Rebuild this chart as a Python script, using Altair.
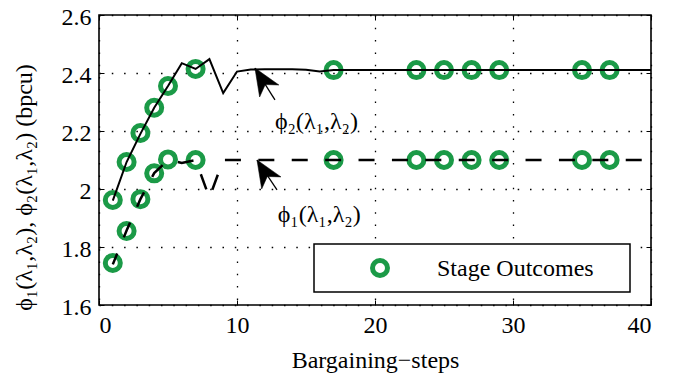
import altair as alt
import pandas as pd

FONT = "'Liberation Serif', 'Times New Roman', Times, serif"
GREEN = "#1B9A47"

# ---- data -------------------------------------------------------------
steps = list(range(1, 41))
phi2 = [1.960, 2.093, 2.190, 2.280, 2.355, 2.434, 2.414, 2.448, 2.331, 2.405,
        2.412, 2.413, 2.413, 2.413, 2.411, 2.405, 2.410, 2.410, 2.410, 2.410,
        2.410, 2.410, 2.410, 2.410, 2.410, 2.410, 2.410, 2.410, 2.410, 2.410,
        2.410, 2.410, 2.410, 2.410, 2.410, 2.410, 2.410, 2.410, 2.410, 2.410]
phi1 = [1.740, 1.857, 1.965, 2.055, 2.100, 2.090, 2.100, 1.970, 2.100, 2.100,
        2.100, 2.100, 2.100, 2.100, 2.100, 2.100, 2.100, 2.100, 2.100, 2.100,
        2.100, 2.100, 2.100, 2.100, 2.100, 2.100, 2.100, 2.100, 2.100, 2.100,
        2.100, 2.100, 2.100, 2.100, 2.100, 2.100, 2.100, 2.100, 2.100, 2.100]

stage_steps = [1, 2, 3, 4, 5, 7, 17, 23, 25, 27, 29, 35, 37]
stage_phi2 = [1.962, 2.093, 2.193, 2.280, 2.355, 2.414, 2.410, 2.410, 2.410, 2.410, 2.410, 2.410, 2.410]
stage_phi1 = [1.745, 1.855, 1.965, 2.054, 2.102, 2.100, 2.100, 2.100, 2.100, 2.100, 2.100, 2.100, 2.100]

x_ticks = [0, 10, 20, 30, 40]
y_ticks = [1.6, 1.8, 2.0, 2.2, 2.4, 2.6]

ann_labels = ["ϕ₂(λ₁,λ₂)", "ϕ₁(λ₁,λ₂)"]
ann_x = [12.75, 12.95]
ann_y = [2.231, 1.910]
arrow_tip_x = [11.30, 11.45]
arrow_tip_y = [2.417, 2.100]
arrow_tail_x = [12.75, 12.90]
arrow_tail_y = [2.307, 1.997]

legend_label = ["Stage Outcomes"]

# ---- tables -------------------------------------------------------------
lines = pd.DataFrame({"step": steps, "phi1": phi1, "phi2": phi2})
stages = pd.DataFrame({
    "step": stage_steps + stage_steps,
    "value": stage_phi2 + stage_phi1,
})
ann = pd.DataFrame({"label": ann_labels, "x": ann_x, "y": ann_y})
arrows = pd.DataFrame({"tx": arrow_tip_x, "ty": arrow_tip_y,
                       "sx": arrow_tail_x, "sy": arrow_tail_y})
leg = pd.DataFrame({"label": legend_label})

xscale = alt.Scale(domain=[0, 40], nice=False, zero=False)
yscale = alt.Scale(domain=[1.6, 2.6], nice=False, zero=False)

common_axis = dict(
    labelFont=FONT, labelFontSize=24, labelColor="black",
    titleFont=FONT, titleFontSize=24, titleColor="black", titleFontWeight="normal",
    tickColor="black", tickWidth=1, tickSize=5, offset=-5,
    domain=False,
    gridColor="black", gridWidth=1.3, gridDash=[1.5, 10.8], gridOpacity=1,
)

x_main = alt.Axis(orient="bottom", values=x_ticks, grid=True, format="d",
                  title="Bargaining−steps", labelPadding=27, labelBaseline="alphabetic",
                  titleBaseline="alphabetic", titleY=67, **common_axis)
y_main = alt.Axis(orient="left", values=y_ticks, grid=True, format="~g",
                  title="ϕ₁(λ₁,λ₂), ϕ₂(λ₁,λ₂) (bpcu)", labelPadding=8,
                  labelBaseline="middle", labelOffset=2,
                  titleBaseline="alphabetic", titleX=-73, titleY=172, **common_axis)
x_top = alt.Axis(orient="top", values=x_ticks, grid=False, labels=False, title=None,
                 **common_axis)
y_right = alt.Axis(orient="right", values=y_ticks, grid=False, labels=False, title=None,
                   **common_axis)

base = alt.Chart(lines)

circles = alt.Chart(stages).mark_point(
    shape="circle", filled=False, stroke=GREEN, strokeWidth=5, size=225, opacity=1
).encode(
    x=alt.X("step:Q", scale=xscale, axis=x_main),
    y=alt.Y("value:Q", scale=yscale, axis=y_main),
)

line2 = base.mark_line(color="black", strokeWidth=2).encode(
    x=alt.X("step:Q", scale=xscale, axis=x_top),
    y=alt.Y("phi2:Q", scale=yscale, axis=y_right),
)

line1 = base.mark_line(color="black", strokeWidth=2.5, strokeDash=[16, 17.4],
                       strokeDashOffset=4.2).encode(
    x=alt.X("step:Q", scale=xscale, axis=None),
    y=alt.Y("phi1:Q", scale=yscale, axis=None),
)

arrow_shaft = alt.Chart(arrows).mark_rule(color="black", strokeWidth=1.3).encode(
    x=alt.X("tx:Q", scale=xscale, axis=None),
    y=alt.Y("ty:Q", scale=yscale, axis=None),
    x2="sx:Q", y2="sy:Q",
)

arrow_head = alt.Chart(arrows).mark_point(
    shape="M0,0 L0.42,1 L0,0.72 L-0.42,1 Z", filled=True, fill="black",
    stroke="black", strokeWidth=0.5, size=2916, angle=328, opacity=1
).encode(
    x=alt.X("tx:Q", scale=xscale, axis=None),
    y=alt.Y("ty:Q", scale=yscale, axis=None),
)

ann_text = alt.Chart(ann).mark_text(
    font=FONT, fontSize=24, color="black", align="left", baseline="middle"
).encode(
    x=alt.X("x:Q", scale=xscale, axis=None),
    y=alt.Y("y:Q", scale=yscale, axis=None),
    text="label:N",
)

leg_box = alt.Chart(leg).mark_rect(fill="white", stroke="black", strokeWidth=1.5).encode(
    x=alt.value(215), x2=alt.value(531), y=alt.value(229), y2=alt.value(277)
)
leg_sym = alt.Chart(leg).mark_point(
    shape="circle", filled=False, stroke=GREEN, strokeWidth=5, size=225, opacity=1
).encode(x=alt.value(281), y=alt.value(253))
leg_text = alt.Chart(leg).mark_text(
    font=FONT, fontSize=24, color="black", align="left", baseline="middle", dy=1
).encode(x=alt.value(338), y=alt.value(253), text="label:N")

chart = alt.layer(
    circles, line2, line1, arrow_shaft, arrow_head, ann_text, leg_box, leg_sym, leg_text
).resolve_scale(
    x="shared", y="shared"
).resolve_axis(
    x="independent", y="independent"
).properties(
    width=552, height=290,
    padding={"left": 99, "top": 15, "right": 26, "bottom": 68},
    autosize=alt.AutoSizeParams(type="none"),
    background="white",
).configure_view(
    stroke="black", strokeWidth=1.6
)

chart.save("out.html", embed_options={"renderer": "svg", "actions": False})
